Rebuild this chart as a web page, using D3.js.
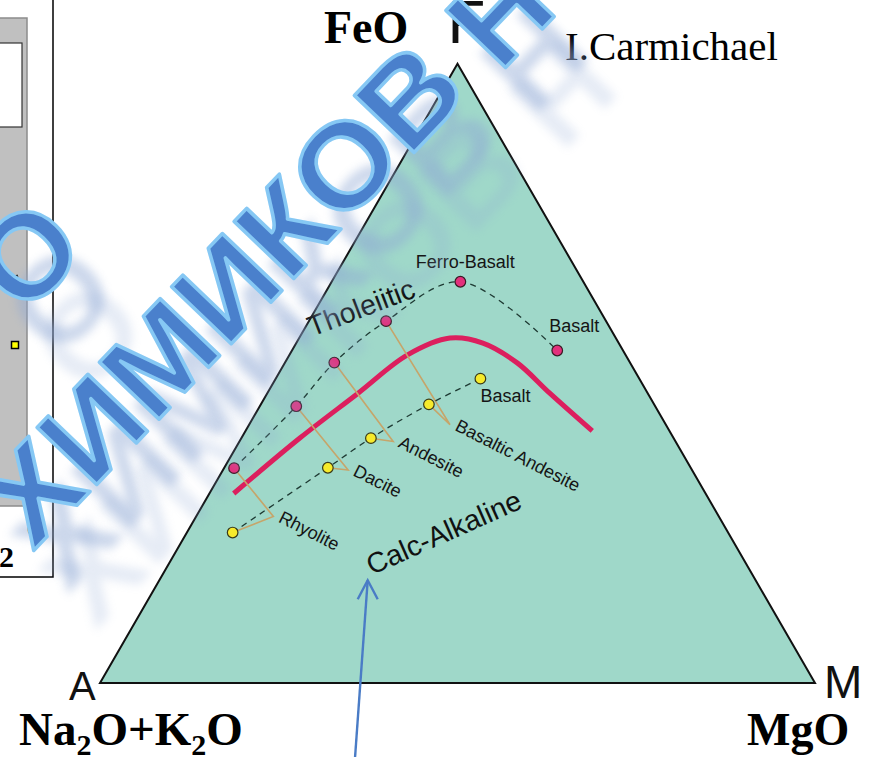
<!DOCTYPE html>
<html>
<head>
<meta charset="utf-8">
<script src="https://cdn.jsdelivr.net/npm/d3@7"></script>
<style>
  body { margin: 0; background: #fff; }
  svg { display: block; }
</style>
</head>
<body>
<svg id="chart" width="873" height="757"></svg>
<script>
// AFM diagram data. Every composition is [A (Na2O+K2O), F (FeO), M (MgO)] in percent.
const tholeiiticNames = ["", "", "", "", "Ferro-Basalt", "Basalt"];
const tholeiiticSeries = [
  [63.9, 34.7, 1.4], [50.2, 44.7, 5.1], [41.4, 51.8, 6.9],
  [30.8, 58.5, 10.8], [17.2, 64.8, 18.0], [9.2, 53.7, 37.1]
];
const calcAlkalineNames = ["Rhyolite", "Dacite", "Andesite", "Basaltic Andesite", "Basalt"];
const calcAlkalineSeries = [
  [69.3, 24.3, 6.4], [50.8, 34.8, 14.5], [42.3, 39.5, 18.1],
  [31.5, 45.0, 23.5], [22.2, 49.1, 28.6]
];
// Tholeiitic / calc-alkaline dividing line
const boundaryLine = [
  [66.0, 30.6, 3.4], [52.2, 39.6, 8.2], [40.5, 46.8, 12.7], [30.6, 53.0, 16.5],
  [23.2, 55.7, 21.1], [19.0, 54.9, 26.1], [15.8, 51.7, 32.5], [13.7, 46.8, 39.5],
  [10.8, 40.7, 48.5]
];
// Where the paired leader lines of each rock name meet
const leaderKnots = [[62.3, 26.9, 10.8], [48.1, 34.4, 17.5], [39.5, 39.0, 21.5], [30.2, 41.7, 28.1]];
const seriesLabels = ["Tholeiitic", "Calc-Alkaline"];
const seriesLabelAt = [[42.4, 55.9, 1.7], [53.3, 17.4, 29.3]];
const vertexLetters = ["A", "F", "M"];
const vertexOxides = ["Na2O+K2O", "FeO", "MgO"];

const svg = d3.select("#chart");

// Ternary projection: F sets the height, M + F/2 the horizontal position
const xScale = d3.scaleLinear().domain([0, 100]).range([100, 815]);
const yScale = d3.scaleLinear().domain([0, 100]).range([683, 63.8]);
function project(c) {
  const s = c[0] + c[1] + c[2];
  const f = c[1] / s * 100, m = c[2] / s * 100;
  return [xScale(m + f / 2), yScale(f)];
}

// ---- neighbouring panel on the slide (left edge) ----
const side = svg.append("g");
side.append("rect").attr("x", -3).attr("y", 18).attr("width", 30).attr("height", 488)
  .attr("fill", "#c0c0c0").attr("stroke", "#8c8c8c").attr("stroke-width", 1.5);
side.append("rect").attr("x", -3).attr("y", 43).attr("width", 25).attr("height", 84)
  .attr("fill", "#fff").attr("stroke", "#333").attr("stroke-width", 1.2);
side.append("line").attr("x1", 0).attr("y1", 283).attr("x2", 18).attr("y2", 276)
  .attr("stroke", "#111").attr("stroke-width", 3);
side.append("rect").attr("x", 11.5).attr("y", 341.5).attr("width", 7).attr("height", 7)
  .attr("fill", "#ffff00").attr("stroke", "#000").attr("stroke-width", 1.5);
side.append("line").attr("x1", 26).attr("y1", 500).attr("x2", 26).attr("y2", 510)
  .attr("stroke", "#555").attr("stroke-width", 1);
side.append("text").attr("x", 27).attr("y", 535).attr("font-family", "Liberation Sans, Arial")
  .attr("font-size", 18).text("0");
side.append("text").attr("x", -1).attr("y", 567).attr("font-family", "Liberation Serif, Times New Roman")
  .attr("font-weight", "bold").attr("font-size", 30).text("2");
side.append("path").attr("d", "M53,0 V577 H0").attr("fill", "none").attr("stroke", "#000").attr("stroke-width", 1.5);

// ---- triangle ----
const corners = [[100, 0, 0], [0, 100, 0], [0, 0, 100]];
svg.append("path")
  .attr("d", d3.line()(corners.map(project)) + "Z")
  .attr("fill", "#9fd8c9").attr("stroke", "#111").attr("stroke-width", 2)
  .attr("stroke-linejoin", "miter");

// dividing line
svg.append("path")
  .attr("d", d3.line().curve(d3.curveCatmullRom.alpha(0.5))(boundaryLine.map(project)))
  .attr("fill", "none").attr("stroke", "#dc1f5e").attr("stroke-width", 5).attr("stroke-linecap", "butt");

// leader lines from both trends to each rock name
const leaders = svg.append("g").attr("stroke", "#c6a56a").attr("stroke-width", 1.6).attr("fill", "none");
leaderKnots.forEach((k, i) => {
  leaders.append("path").attr("d", d3.line()([project(tholeiiticSeries[i]), project(k), project(calcAlkalineSeries[i])]));
});

// trend curves
const trend = d3.line().curve(d3.curveCatmullRom.alpha(0.5));
[tholeiiticSeries, calcAlkalineSeries].forEach(s => {
  svg.append("path").attr("d", trend(s.map(project)))
    .attr("fill", "none").attr("stroke", "#1e3a33").attr("stroke-width", 1.3)
    .attr("stroke-dasharray", "6,5");
});

// points
svg.append("g").selectAll("circle").data(tholeiiticSeries).join("circle")
  .attr("cx", d => project(d)[0]).attr("cy", d => project(d)[1]).attr("r", 5.3)
  .attr("fill", "#e3307c").attr("stroke", "#3a1a24").attr("stroke-width", 1.2);
svg.append("g").selectAll("circle").data(calcAlkalineSeries).join("circle")
  .attr("cx", d => project(d)[0]).attr("cy", d => project(d)[1]).attr("r", 5.3)
  .attr("fill", "#f6ea2c").attr("stroke", "#3a3a18").attr("stroke-width", 1.2);

// rock names
const labelFont = "Liberation Sans, Arial, sans-serif";
const rockLabels = svg.append("g").attr("font-family", labelFont).attr("font-size", 18).attr("fill", "#151515");
leaderKnots.forEach((k, i) => {
  const [x, y] = project(k);
  rockLabels.append("text")
    .attr("transform", `translate(${x + 4},${y + 5}) rotate(27)`)
    .text(calcAlkalineNames[i]);
});
{
  const [x, y] = project(calcAlkalineSeries[4]);
  rockLabels.append("text").attr("x", x).attr("y", y + 23).text(calcAlkalineNames[4]);
}
{
  const [x, y] = project(tholeiiticSeries[4]);
  rockLabels.append("text").attr("x", x + 5).attr("y", y - 14).attr("text-anchor", "middle").text(tholeiiticNames[4]);
}
{
  const [x, y] = project(tholeiiticSeries[5]);
  rockLabels.append("text").attr("x", x - 8).attr("y", y - 18).text(tholeiiticNames[5]);
}

// series names
const seriesRot = [-21, -24];
seriesLabels.forEach((t, i) => {
  const [x, y] = project(seriesLabelAt[i]);
  svg.append("text").attr("transform", `translate(${x},${y}) rotate(${seriesRot[i]})`)
    .attr("font-family", labelFont).attr("font-size", 28.5).attr("fill", "#111").text(t);
});

// arrow pointing at the calc-alkaline name
{
  const [x, y] = project(seriesLabelAt[1]);
  const tip = [x - 4, y + 5];
  const tail = [tip[0] - 13, tip[1] + 182];
  const arrow = svg.append("g").attr("stroke", "#4a7cc6").attr("stroke-width", 2.4).attr("fill", "none");
  arrow.append("line").attr("x1", tail[0]).attr("y1", tail[1]).attr("x2", tip[0]).attr("y2", tip[1]);
  arrow.append("path").attr("d", `M${tip[0] - 10},${tip[1] + 19} L${tip[0]},${tip[1]} L${tip[0] + 10},${tip[1] + 19}`);
}

// vertex letters and oxide names
const [pA, pF, pM] = corners.map(project);
const vl = svg.append("g").attr("font-family", labelFont).attr("fill", "#111");
vl.append("text").attr("x", pA[0] - 31).attr("y", pA[1] + 17).attr("font-size", 40).text(vertexLetters[0]);
vl.append("text").attr("x", pF[0] - 10).attr("y", 43).attr("font-size", 62).text(vertexLetters[1]);
vl.append("text").attr("x", pM[0] + 9).attr("y", pM[1] + 15).attr("font-size", 46).text(vertexLetters[2]);

const serif = "Liberation Serif, Times New Roman, serif";
const ox = svg.append("g").attr("font-family", serif).attr("font-weight", "bold").attr("fill", "#000");
{
  const t = ox.append("text").attr("x", 19).attr("y", 745).attr("font-size", 47);
  // Na2O+K2O with subscript 2s
  vertexOxides[0].split(/(2)/).forEach(part => {
    if (!part) return;
    if (part === "2") t.append("tspan").attr("font-size", 30).attr("dy", 10).text(part);
    else {
      const sp = t.append("tspan").text(part);
      if (t.selectAll("tspan").size() > 1) sp.attr("dy", -10);
    }
  });
}
ox.append("text").attr("x", 324).attr("y", 43).attr("font-size", 46).text(vertexOxides[1]);
ox.append("text").attr("x", 747).attr("y", 745).attr("font-size", 46).text(vertexOxides[2]);

svg.append("text").attr("x", 565).attr("y", 60).attr("font-family", serif)
  .attr("font-size", 41).attr("fill", "#000").text("I.Carmichael");

// ---- site watermark over the slide ----
const defs = svg.append("defs");
defs.append("filter").attr("id", "soft").append("feGaussianBlur").attr("stdDeviation", 5);
const wm = svg.append("g").attr("font-family", "Liberation Sans, Arial, sans-serif")
  .attr("font-weight", "bold").attr("font-size", 120);
const wmLines = [
  { text: "ХИМИКОВ", x: 252, y: 322, anchor: "middle", len: 634 },
  { text: "Н", x: 530, y: 42, anchor: "middle", len: null },
  { text: "О", x: 57, y: 284, anchor: "middle", len: null }
];
[[34, 44, 0.45], [62, 80, 0.22]].forEach(([dx, dy, op]) => {
  wmLines.forEach(l => {
    const t = wm.append("text").attr("transform", `translate(${l.x + dx},${l.y + dy}) rotate(-46.3)`)
      .attr("text-anchor", l.anchor).attr("fill", "#8fa8d4").attr("opacity", op)
      .attr("filter", "url(#soft)").text(l.text);
    if (l.len) t.attr("textLength", l.len).attr("lengthAdjust", "spacingAndGlyphs");
  });
});
wmLines.forEach(l => {
  const t = wm.append("text").attr("transform", `translate(${l.x},${l.y}) rotate(-46.3)`)
    .attr("text-anchor", l.anchor).attr("fill", "#4a80cc").attr("stroke", "#86c8f4")
    .attr("stroke-width", 3.5).attr("paint-order", "normal").attr("stroke-linejoin", "round").text(l.text);
  if (l.len) t.attr("textLength", l.len).attr("lengthAdjust", "spacingAndGlyphs");
});
</script>
</body>
</html>
